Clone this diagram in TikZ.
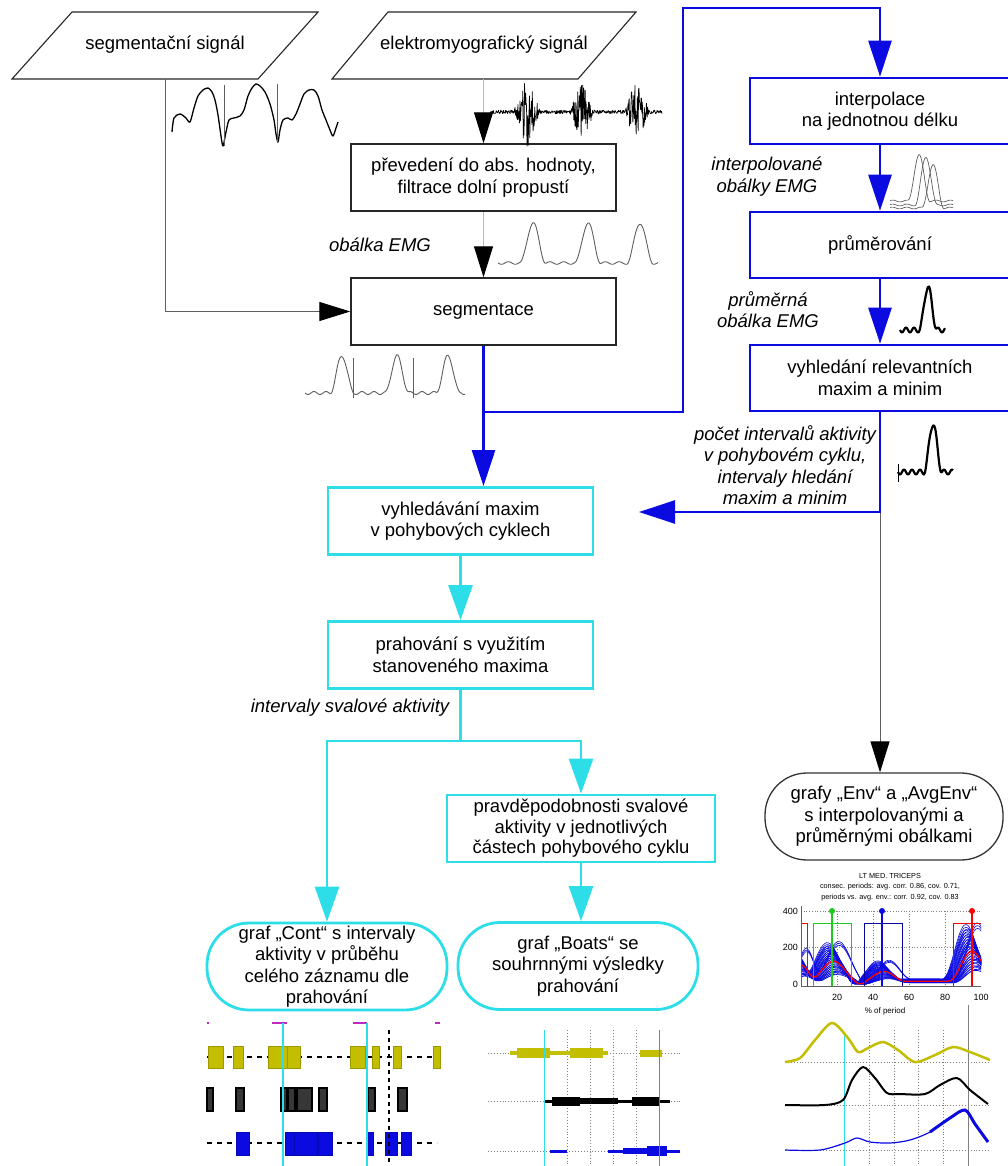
\documentclass[tikz,border=0pt]{standalone}
\usepackage{fontspec}
\setmainfont{Liberation Sans}
\usetikzlibrary{arrows.meta}
\definecolor{bl}{RGB}{10,10,225}
\definecolor{cy}{RGB}{45,222,232}
\definecolor{yl}{RGB}{195,190,0}
\definecolor{gl}{RGB}{185,185,185}
\definecolor{gd}{RGB}{95,95,95}
\definecolor{mg}{RGB}{190,40,190}
\definecolor{gr}{RGB}{30,200,30}
\definecolor{bk}{RGB}{55,55,55}
\tikzset{
  txt/.style={font=\fontsize{18.5}{21.5}\selectfont, align=center, inner sep=0pt},
  itx/.style={font=\fontsize{18.5}{21.5}\selectfont\itshape, align=center, inner sep=0pt},
  kbox/.style={txt, draw=black!85, line width=1.4pt, minimum width=265pt, minimum height=67pt},
  bbox/.style={txt, draw=bl, line width=2.6pt, minimum width=260pt, minimum height=66pt},
  cbox/.style={txt, draw=cy, line width=2.8pt, minimum width=265pt, minimum height=67pt},
  cterm/.style={txt, draw=cy, line width=2.8pt, minimum width=240pt, minimum height=87pt, rounded corners=42pt},
  kterm/.style={txt, draw=black!80, line width=1.3pt, minimum width=238pt, minimum height=87pt, rounded corners=42pt},
  ktip/.style={-{Triangle[length=31pt,width=19pt,color=black]}},
  gline/.style={draw=gd, line width=1pt, ktip},
  lgline/.style={draw=gl, line width=1pt, ktip},
  bline/.style={draw=bl, line width=2.6pt},
  barrow/.style={bline, -{Triangle[length=36pt,width=23pt]}},
  cline/.style={draw=cy, line width=2.8pt},
  carrow/.style={cline, -{Triangle[length=35pt,width=24pt]}},
  karrow/.style={draw=gd, line width=1pt, ktip},
  sig/.style={line width=0.9pt, line join=round},
  tiny/.style={font=\fontsize{7.3}{8}\selectfont, inner sep=0pt},
  tick/.style={font=\fontsize{9}{10}\selectfont, inner sep=1pt},
  grid/.style={gray, dotted, line width=0.9pt},
}
\begin{document}
\begin{tikzpicture}[x=1pt,y=-1pt,
  declare function={bump(\xa,\xb,\xc)=(abs(\xa-\xb)<\xc)*(0.5+0.5*cos((\xa-\xb)/\xc*180));
  mm(\ya)=15+90*bump(\ya,0,9)+110*bump(\ya,18,14)-15*bump(\ya,33,5)+55*bump(\ya,46,12)+165*bump(\ya,95,13);}]
\useasboundingbox (0,0) rectangle (1008,1166);
\clip (0,0) rectangle (1008,1166);
\fill[white] (0,0) rectangle (1008,1166);

% ---------- inputs
\draw[line width=1.1pt, draw=black!85] (72,12) -- (318,12) -- (258,79) -- (12,79) -- cycle;
\node[txt] (segsig) at (165,45) {segmentační signál};
\draw[line width=1.1pt, draw=black!85] (388,12) -- (636,12) -- (578,79) -- (332,79) -- cycle;
\node[txt] (emgsig) at (484,45) {elektromyografický signál};
\coordinate (segsigb) at (165,79);
\coordinate (emgsigb) at (483.5,79);

% ---------- boxes
\node[kbox] (prev) at (483.5,177.5) {převedení do abs. hodnoty,\\filtrace dolní propustí};
\node[kbox] (segm) at (483.5,311.5) {segmentace};
\node[bbox] (interp) at (880,111) {interpolace\\na jednotnou délku};
\node[bbox] (prum) at (880,245) {průměrování};
\node[bbox] (vyhl) at (880,378) {vyhledání relevantních\\maxim a minim};
\node[cbox] (c1) at (460.5,521) {vyhledávání maxim\\v pohybových cyklech};
\node[cbox] (c2) at (460.5,655) {prahování s využitím\\stanoveného maxima};
\node[cbox, minimum width=268pt, font=\fontsize{18.5}{20.5}\selectfont] (c3) at (581,828.5) {pravděpodobnosti svalové\\aktivity v jednotlivých\\částech pohybového cyklu};
\node[cterm] (t1) at (327,966.5) {graf „Cont“ s intervaly\\aktivity v průběhu\\celého záznamu dle\\prahování};
\node[cterm] (t2) at (578,966) {graf „Boats“ se\\souhrnnými výsledky\\prahování};
\node[kterm] (t3) at (884,816.5) {grafy „Env“ a „AvgEnv“\\s interpolovanými a\\průměrnými obálkami};

% ---------- labels
\node[itx] (lobal) at (380,245) {obálka EMG};
\node[itx] (linterp) at (767,176.5) {interpolované\\obálky EMG};
\node[itx] (lprum) at (768,309.5) {průměrná\\obálka EMG};
\node[itx] (lpocet) at (785,465) {počet intervalů aktivity\\v pohybovém cyklu,\\intervaly hledání\\maxim a minim};
\node[itx] (lsval) at (350,708) {intervaly svalové aktivity};

% ---------- connectors
\draw[gline] (segsigb) |- (segm.west);
\draw[lgline] (emgsigb) -- (prev.north);
\draw[lgline] (prev.south) -- (segm.north);
\coordinate (j1) at (483.5,412);
\coordinate (lt) at (683,8);
\draw[barrow] (segm.south) -- (segm.south |- c1.north);
\draw[barrow] (j1) -| (lt) -| (interp.north);
\draw[barrow] (interp.south) -- (prum.north);
\draw[barrow] (prum.south) -- (vyhl.north);
\coordinate (a1) at (639,512);
\coordinate (k1) at (880,512);
\draw[karrow] (k1) -- (k1 |- t3.north);
\draw[barrow] (vyhl.south) |- (a1);
\draw[carrow] (c1.south) -- (c2.north);
\coordinate (sp) at (460.5,741);
\draw[cline] (c2.south) -- (sp);
\draw[carrow] (sp) -| (t1.north);
\draw[carrow] (sp) -| (c3.north);
\draw[carrow] (c3.south) -- (c3.south |- t2.north);

% ---------- small signals
\draw[sig, line width=1.3pt]
  plot[smooth, tension=0.5] coordinates {(172,132) (174,118) (180,114) (186,118) (190,122) (194,108) (198,96) (203,90) (208,88) (212,92) (215,100) (218,115) (221,136) (223,146) (226,132) (229,120) (234,118) (240,116) (244,110) (248,96) (252,88) (256,84) (260,86) (265,92) (270,104) (274,120) (276,134) (278,142) (280,130) (283,120) (288,118) (292,120) (296,114) (300,104) (304,94) (309,90) (314,90) (318,96) (322,110) (326,120) (330,130) (333,136) (336,128) (338,122)};
\draw[line width=0.6pt, gd] (224,85) -- (224,146);
\draw[line width=0.6pt, gd] (277,84) -- (277,143);

\draw[line width=0.7pt, line join=round] plot[domain=490:662, samples=420, variable=\t]
  (\t, {112 + (1.8 + 36*max(0,1-abs(\t-527)/13) + 30*max(0,1-abs(\t-582)/12) + 34*max(0,1-abs(\t-637)/12))*rand});

\draw[line width=0.9pt, gd] plot[domain=498:658, samples=161, variable=\t, smooth]
  (\t, {263 - 40*bump(\t,533,13) - 40*bump(\t,588,13) - 40*bump(\t,640,13) + 1.3*sin(26*(\t-498))});

\draw[line width=0.9pt, gd] plot[domain=305:465, samples=161, variable=\t, smooth]
  (\t, {393 - 37*bump(\t,342,12) - 37*bump(\t,397,12) - 37*bump(\t,448,12) + 1.5*sin(30*(\t-305))});
\draw[line width=0.7pt, gd] (353,358) -- (353,398);
\draw[line width=0.7pt, gd] (413,358) -- (413,398);

\foreach \cc/\hh/\bb in {919/46/201, 926/48/205, 933/43/208}
  \draw[line width=0.7pt, gd] plot[domain=890:953, samples=64, variable=\t, smooth]
    (\t, {\bb - \hh*bump(\t,\cc,11) + 0.9*sin(25*(\t-890)+\cc)});
\draw[line width=2.2pt, line join=round] plot[domain=900:945, samples=46, variable=\t, smooth]
  (\t, {330 - 43*bump(\t,928,9) + 2.5*sin(45*(\t-900))});
\draw[line width=2.2pt, line join=round] plot[domain=898:953, samples=56, variable=\t, smooth]
  (\t, {472 - 48*bump(\t,933,9) + 2.5*sin(45*(\t-898))});
\draw[line width=1pt] (898,464) -- (898,482);

% ---------- Env plot
\node[tiny] (envt1) at (890,876) {LT MED. TRICEPS};
\node[tiny] (envt2) at (890,887) {consec. periods: avg. corr. 0.86, cov. 0.71,};
\node[tiny] (envt3) at (890,898) {periods vs. avg. env.: corr. 0.92, cov. 0.83};
\foreach \p in {20,40,60,80} \draw[grid, line width=0.7pt] ({801+1.8*\p},911) -- ({801+1.8*\p},986);
\foreach \v in {200,400} \draw[grid, line width=0.7pt] (801,{984-0.1825*\v}) -- (981,{984-0.1825*\v});
\begin{scope}
\clip (801,905) rectangle (981,986);
\foreach \i [evaluate=\i as \s using {0.4+1.5*frac(\i*0.618)}, evaluate=\i as \d using {7*(frac(\i*0.377)-0.5)}] in {1,...,40}
  \draw[bl, line width=0.6pt] plot[domain=-5:105, samples=50, variable=\t, smooth]
    ({801+1.8*(\t+\d)}, {984-0.1825*\s*mm(\t)});
\draw[red, line width=1.3pt] plot[domain=0:100, samples=60, variable=\t, smooth]
  ({801+1.8*\t}, {984-0.1825*mm(\t)});
\draw[gr, line width=1pt] (813,986) -- (813,923) -- (851,923) -- (851,986);
\draw[bl!70!black, line width=1pt] (864,986) -- (864,923) -- (902,923) -- (902,986);
\draw[red, line width=1pt] (953,986) -- (953,923) -- (981,923);
\draw[red, line width=1pt] (801,923) -- (807,923) -- (807,986);
\end{scope}
\draw[gr, line width=2pt] (832,911) -- (832,986); \fill[gr] (832,911) circle[radius=3pt];
\draw[bl, line width=2pt] (882,911) -- (882,986); \fill[bl] (882,911) circle[radius=3pt];
\draw[red, line width=2pt] (972,911) -- (972,986); \fill[red] (972,911) circle[radius=3pt];
\draw[gd, line width=1pt] (801,906) -- (801,986) -- (981,986);
\node[tick, anchor=east] (y400) at (799,911) {400};
\node[tick, anchor=east] (y200) at (799,947) {200};
\node[tick, anchor=east] (y0) at (799,984) {0};
\foreach \p in {20,40,60,80,100} \node[tick] at ({801+1.8*\p},997) {\p};
\node[font=\fontsize{8}{9}\selectfont, inner sep=0pt] (xlab) at (885,1011) {\% of period};

% ---------- bottom right envelopes
\foreach \yy in {1062,1105,1150} \draw[grid] (785,\yy) -- (990,\yy);
\foreach \xx in {869,894,918,943} \draw[grid] (\xx,1030) -- (\xx,1166);
\draw[gray, line width=1pt] (968,1005) -- (968,1166);
\draw[cy, line width=1pt] (844,1035) -- (844,1166);
\draw[yl, line width=2.5pt] plot[smooth] coordinates {(785,1062) (800,1058) (815,1040) (832,1023) (848,1038) (858,1052) (868,1048) (883,1042) (898,1050) (915,1062) (935,1055) (953,1047) (970,1052) (990,1060)};
\draw[black, line width=2pt] plot[smooth] coordinates {(785,1105) (825,1105) (843,1100) (852,1080) (863,1067) (875,1078) (887,1093) (900,1094) (925,1094) (940,1085) (957,1078) (970,1090) (988,1104)};
\draw[bl, line width=1.2pt] plot[smooth] coordinates {(785,1150) (820,1150) (845,1143) (857,1138) (870,1142) (890,1143) (910,1140) (930,1132) (950,1118) (965,1110) (975,1124) (988,1142)};
\draw[bl, line width=3pt] plot[smooth] coordinates {(930,1132) (950,1118) (965,1110) (975,1124) (988,1142)};

% ---------- Boats plot
\foreach \yy in {1053,1101,1151} \draw[grid] (488,\yy) -- (680,\yy);
\foreach \xx in {567,590,613,636} \draw[grid] (\xx,1030) -- (\xx,1166);
\foreach \pa/\pb/\ph in {510/517/4, 517/550/10, 550/570/4, 570/603/10, 603/608/4, 640/662/7}
  \fill[yl] (\pa,{1053-\ph/2}) rectangle (\pb,{1053+\ph/2});
\foreach \pa/\pb/\ph in {545/552/3, 552/580/9, 580/618/6, 618/632/3, 632/660/9, 660/670/3}
  \fill[black] (\pa,{1101-\ph/2}) rectangle (\pb,{1101+\ph/2});
\foreach \pa/\pb/\ph in {550/567/3, 608/623/3, 623/647/6, 647/667/10, 667/680/3}
  \fill[bl] (\pa,{1151-\ph/2}) rectangle (\pb,{1151+\ph/2});
\draw[gray, line width=1pt] (659,1030) -- (659,1166);
\draw[cy, line width=1pt] (544,1030) -- (544,1166);

% ---------- Cont plot
\foreach \pa/\pb in {207/209, 272/287, 353/367, 435/440} \draw[mg, line width=1.3pt] (\pa,1023) -- (\pb,1023);
\draw[line width=1.3pt, dash pattern=on 5pt off 5pt] (207,1057) -- (440,1057);
\draw[line width=1.3pt, dash pattern=on 5pt off 5pt] (207,1143) -- (437,1143);
\foreach \pa/\pb in {208/223, 233/243, 268/287, 287/300, 350/365, 372/379, 393/401, 433/440}
  \draw[fill=yl, draw=yl!80!black, line width=0.5pt] (\pa,1046) rectangle (\pb,1068);
\foreach \pa/\pb in {207/213, 236/244, 281/287, 288/295, 297/312, 319/327, 368/375, 398/407}
  \draw[fill=bk, draw=black, line width=1.2pt] (\pa,1088) rectangle (\pb,1111);
\foreach \pa/\pb in {236/249, 285/294, 294/317, 318/332, 368/373, 385/397, 401/411}
  \draw[fill=bl, draw=bl!80!black, line width=0.5pt] (\pa,1132) rectangle (\pb,1155);
\draw[cy, line width=1.5pt] (283,1023) -- (283,1166);
\draw[cy, line width=1.5pt] (367,1023) -- (367,1166);
\draw[line width=1.8pt, dash pattern=on 4pt off 4pt] (389,1030) -- (389,1166);
\end{tikzpicture}
\end{document}
